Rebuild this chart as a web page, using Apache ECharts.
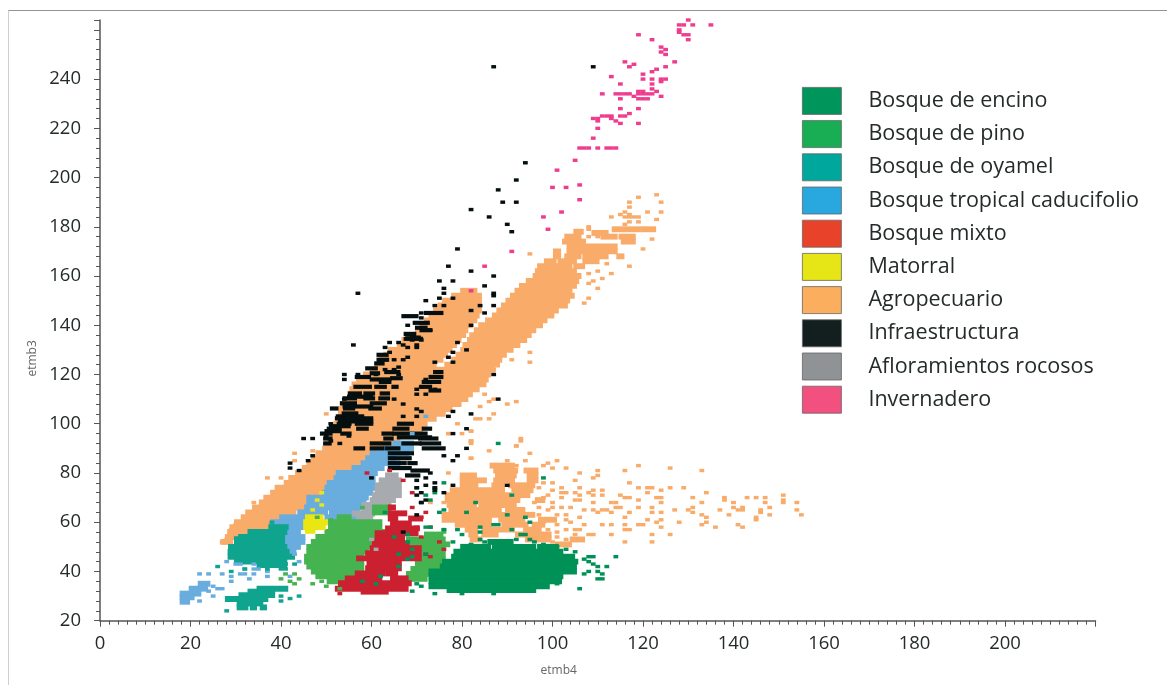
<!DOCTYPE html>
<html><head><meta charset="utf-8">
<script src="https://cdn.jsdelivr.net/npm/echarts@6/dist/echarts.min.js"></script>
<style>html,body{margin:0;padding:0;background:#fff}
#c{position:absolute;left:0;top:0;width:1167px;height:685px}
#f{position:absolute;left:8px;top:10px;right:0;bottom:0;border-top:1.5px solid #949494;border-left:1.5px solid #cfcfcf;pointer-events:none}</style>
</head><body><div id="c"></div><div id="f"></div>
<script>
const xTitle='etmb4', yTitle='etmb3';
const classNames=['Bosque de encino','Bosque de pino','Bosque de oyamel','Bosque tropical caducifolio','Bosque mixto','Matorral','Agropecuario','Infraestructura','Afloramientos rocosos','Invernadero'];
const legendColors=['#00955a','#1aae54','#00a79d','#29a8df','#e8432a','#e6e617','#fbae5d','#121f1e','#8f9396','#f2507f'];

// dense rows: [y, xFrom, xTo]
const agroRows=[[52,27,29],[54,28,31],[56,28.5,33],[58,29,37],[60,30,39],[62,31.5,41],[64,32.5,43],[66,34,45],[68,35.5,47],[70,36.5,48.5],[72,38,50],[74,39,51],[76,41,52.5],[78,42,54],[80,43.5,55],[82,45,56],[84,46,58],[86,47,60],[88,48,61],[90,49.5,63],[92,50,65],[94,50.5,66],[96,51,69],[98,51.5,71],[100,52,72],[102,52.5,74],[104,53,76],[106,53,77.5],[108,53.5,79.5],[110,54,81],[112,55,82],[114,55.5,83.5],[116,56,85],[118,57,85.5],[120,58.5,86],[122,60,87],
[124,61,74],[124,76.5,88],[126,62,75.5],[126,78,88.5],[128,63,76.5],[128,79,89.5],[130,64,77.5],[130,80,91],[132,66,78.5],[132,80.5,92.5],[134,67,79.5],[134,81.5,94],[136,68,80.5],[136,82,95],[138,70,81],[138,83,96],[140,71,82],[140,84,97.5],[142,72,83],[142,85.5,98.5],[144,73,83.5],[144,87,100],[146,74,84],[146,88,101],[148,75,84],[148,89,103],[150,76,84],[150,90,103.5],[152,78,84],[152,91,104.5],[154,80,83],[154,92,104],[156,93,105],[158,94.5,105.5],[160,96,106],[162,96.5,105],[164,97,104],[164,105,106.8],[166,98.5,100.5],[166,101.5,105],[166,107,110],[168,100.5,101.5],[168,103,106],[168,107,110],[168,110.5,112],[168,114.5,115.5],[170,100.5,101.5],[170,103.5,114],[172,103.5,114],[174,102.5,107],[174,115.5,118],[176,103,106],[176,111,114],[176,115,118],[177.5,109,112],[178,105,106.5],[179,113.5,119.3],[179,120,122.5],
[83,86.5,91.3],[81,87.3,92],[81,94,96.5],[79,79.9,82.9],[79,87.7,91.7],[79,94.7,96.5],[77,79.9,85.1],[77,87.3,91.3],[77,94.7,96.5],[75,79.9,83.2],[75,86.9,89.1],[75,90.6,95.8],[73,77.7,89.1],[73,91.3,95.4],[71,76.6,90.6],[71,91.7,94.7],[69,76.6,84],[69,84.7,92.5],[69,96.5,98],[67,77,82.9],[67,84,91.7],[65,77.4,88.4],[65,89.9,93.6],[63,75.9,89.9],[63,90.6,95.8],[61,75.9,86.2],[61,88.4,93.6],[61,97.2,100.6],[59,78.8,86.2],[59,89.1,94.3],[59,95.8,98],[57,81,83.2],[57,84.7,91.3],[57,93.9,97.2],[55,81.8,83.2],[55,84.7,87.7],[55,92.1,99.4],[53,82.1,84],[53,94.3,99.4],[53,104.2,106.8],[51,100.9,103.9]];
const agroPoints=[[123,193],[119,192],[124,190],[117,190],[117,188],[116,186],[121,186],[124,186],[115,185],[113,184],[116,184],[117,184],[118,184],[119,184],[117,185],[123,183],[117,182],[119,182],[116,181],[108,180],[108,179],[108,176],[110,176],[122,175],[120,171],[95,169],[117,164],[113,161],[111,159],[110,162],[112,165],[110,155],[108,151],[107,149],[108,161],[109,158],[108,157],[91,126],[95,125],[95,129],[87,122],[85,112],[87,110],[90,108],[92,109],[86,109],[84,107],[87,104],[84,102],[86,102],[83,102],[79,100],[82,97],[77,96],[80,96],[82,93],[93,93],[92,91],[86,89],[95,88],[82,86],[43,88],[47,89],[50,104],[37,78],[40,78],[43,85],[34,68],[30,59],[29,57],[27,52],[28,53],[30,55],
[93,94],[92,91],[90,85],[94,85],[92,83],[98,83],[99,84],[101,85],[100,82],[103,82],[106,80],[110,81],[110,79],[109,78],[116,81],[119,83],[126,82],[133,81],[105,77],[117,76],[119,74],[122,74],[121,74],[126,74],[129,74],[124,73],[121,72],[134,72],[100,73],[102,74],[102,72],[106,74],[103,72],[105,72],[109,73],[111,73],[108,72],[109,71],[111,71],[115,71],[116,70],[117,70],[119,69],[123,70],[124,70],[124,68],[131,70],[138,70],[138,69],[143,70],[145,70],[147,70],[151,71],[151,69],[151,68],[133,68],[147,68],[154,68],[102,70],[106,71],[106,69],[105,69],[109,68],[113,68],[114,68],[100,68],[100,66],[104,66],[107,65],[109,65],[110,64],[111,65],[112,65],[113,64],[114,66],[115,66],[116,62],[119,66],[117,64],[122,66],[122,64],[124,64],[127,65],[130,65],[131,66],[131,64],[133,63],[134,62],[137,65],[139,63],[140,68],[140,66],[141,65],[142,65],[142,66],[146,65],[146,64],[145,62],[145,61],[148,66],[148,63],[154,65],[155,63],[103,63],[103,61],[106,62],[104,60],[107,59],[106,57],[111,59],[113,59],[116,59],[119,59],[120,59],[121,61],[123,60],[124,61],[124,58],[128,60],[133,59],[134,60],[136,58],[141,59],[142,58],[116,57],[117,57],[113,55],[116,52],[122,55],[122,52],[126,55],[109,55],[108,55],[105,57],[105,55],[103,57],[103,53],[101,59],[77,80],[82,93],[82,92],[82,97],[82,86],[77,96],[73,68],[76,68],[98,70],[99,65],[97,74],[98,76],[97,63],[101,63],[102,66],[99,71],[100,76],[99,57],[101,56],[98,60],[97,66],[96,68],[101,54],[100,52]];

const tropRows=[[92,65,69],[90,63,69],[88,60,68],[86,59,65],[84,58,66],[82,56,62.5],[80,52.5,61],[78,52,60.5],[76,50.5,60.5],[74,50,60.5],[72,49.5,60],[70,46,59],[68,46,58.5],[66,45.5,58],[64,44,50],[64,51,57],[62,40,46],[62,50,57],[60,38,46],[60,50,52],[58,41,46],[56,41,44],[54,41,45],[52,40.5,45],[50,41,44],[48,41,43],[35,22,24],[33,20,23.5],[31,18,22],[29.5,18,20.5],[27.7,18,19.5]];
const tropPoints=[[28,44],[30,43],[31,43],[34,43],[32,41],[34,41],[35,41],[27,39],[29,38],[31,39],[32,39],[34,39],[37,40],[37,38],[33,37],[29,36],[24,39],[22,39],[25,34],[27,33],[26,33],[24,32],[25,30],[22,28],[42,38],[43,47],[44,44],[72,103],[69,96]];

const oyamelRows=[[58,37.6,41.3],[56,33,41],[54,30,40.5],[52,30,40.5],[50,28.7,41],[48,28.6,41.5],[46,28.6,42.7],[44,30,41],[42.6,35,41],[33,35,41.2],[31.8,33,38.3],[30.4,31,38.3],[28.8,28,36.8],[27,30.6,35.7],[25.4,30.6,32.4],[25.4,33.5,34.3],[25.4,35.7,36.5]];
const oyamelPoints=[[38,60],[26,42],[29,40],[32,41],[37,41],[41,41],[39,43],[40,41],[41,43],[43,43],[28,24],[40,30],[42,29],[44,30],[40,28]];

const matorralRows=[[62,45.7,49],[60,45.3,50],[58,45.3,49.5],[56.5,45.7,47.2]];
const matorralPoints=[[49,72],[48,69],[49,67],[47,65]];

const afloRows=[[79,63.4,65.6],[77,62,66.3],[75,61.1,66.3],[73,61.1,66.3],[71,60.5,66.3],[69,60,65],[67,58.2,64],[65,58.2,60.4],[63.5,56,60.4],[62,57,60]];
const afloPoints=[[60,53],[61,49]];

const pinoRows=[[66,60.5,64],[64,60.5,64],[62,52.7,55.2],[60,50.8,62],[58,50.8,62],[56,50,64],[54,48,64],[52,47,62],[50,46,60],[48,46,59],[46,45.5,58],[44,45.5,58],[42,46,58],[40,47,58],[38,48,56],[36,50.5,56],
[55,72,75.5],[53,68,76],[51,68,77],[49,68,76],[47,68,76],[45,70,76],[43,70,76],[41,69,75],[39,68,74],[37,68,72]];
const pinoPoints=[[40,37],[42,36],[43,35],[44,37],[47,35],[50,34],[49,36],[48,62],[51,61],[43,39],[41,39],[53,33],[58,66],[76,56],[76,57]];

const encinoRows=[[52,86,91],[50,80,86],[50,87,96],[50,97,101],[48,78.5,102],[46,78,104.6],[44,76,105.3],[42,75.5,105],[40,73,105],[38,73,102],[36,73,101.7],[34,73,99],[32.5,77,96]];
const encinoPoints=[[114,46],[109,46],[108,46],[107,45],[108,44],[109,43],[112,42],[110,42],[110,40],[111,39],[108,40],[110,37],[111,37],[107,39],[106,33],[101,35],[74,31],[80,31],[87,31],[69,32],[71,34],[70,35],
[88,92],[98,78],[91,71],[83,68],[81,64],[90,63],[76,65],[75,64],[76,76],[74,74],[74,72],[94,62],[95,60],[87,59],[88,59],[84,58],[84,56],[91,57],[94,55],[79,57],[76,57],[72,58],[73,58],[92,53],[65,54],[68,52],[69,49],[66,47],[68,45],[66,42],[62,38],[58,36],[61,35],[70,74],[63,64],[68,55],[69,46],[72,47],[73,69],[72,71],[80,55],[78,52],[85,52],[95,53],[98,51],[82,51],[84,53],[93,55],[103,49],[105,48],[101,50],[96,52]];

const mixtoRows=[[66,64,65],[63.6,64,67.5],[61.5,64,65.5],[61.5,68.5,71],[59.5,64.5,68.5],[57.5,63.4,70.3],[55.5,61.1,70],[53.4,61.1,67],[51.4,60.5,62],[51.4,62.7,68],[49.4,60,70.7],[47.4,59,70.7],[45.3,57,70.7],[43.3,59.3,66.3],[41.3,59,66.3],[39.2,56.7,62.6],[39.2,63.4,65.5],[37.2,54.5,62],[37.2,64.5,67.8],[35.2,53,68.5],[33,52.3,67.8],[31.8,58,63.4]];
const mixtoPoints=[[69,66],[70,58],[71,54],[72,47],[73,46],[75,52],[76,49],[67,77],[69,72],[64,81],[73,58],[53,31],[59,80],[72,64],[71,62]];

const infraRows=[[145,72,75.5],[143.7,67,70],[141,69.5,72.5],[139,70,72],[138,71,73],[136.5,67.5,69.5],[134.5,67.5,71],[135,69,70.5],[128,61.5,63.4],[126,61.5,63.5],[124.5,61,62.5],[122.5,59,61],[121,63.2,66],[121,74,75.5],[120.5,60,61.5],[119,56.7,59.5],[119,73,75.5],[118.5,64.5,66.5],[118,60,64],[117,62,64],[117,71.5,75],[115,56.4,59.7],[115,61,63],[115,64.8,65.6],[115,71,73],[113.5,73,75],[112.3,55.2,57.5],[112.3,58.6,60.4],[112.3,62.2,63.7],[111,55,60],[110.3,54,56.4],[110.3,58.6,60.4],[110.3,61.9,63.7],[108.3,53.4,56.4],[108.3,60,63],[107,54,60],[106.2,51.2,52.3],[106.2,54.1,56],[106.2,59.7,61.9],[104.2,53.8,56.7],[103,52.5,58],[102.2,52.3,56],[102.2,56.7,60],[101,53,60],[100,52.7,55.2],[100,56.7,60],[100,66,69],[99,51,55],[98,50.5,53],[98,57,59],[98,65,68],[98,71.5,73],[97,50,53],[96,49,51],[96,53.5,55.2],[96,62.6,64.5],[96,65,72],[94.5,66,73],[94,49.7,51],[94,63,64.5],[94,70.7,74.4],[92,49.7,50.8],[92,60,64],[92,67,70.7],[92,71,75],[90,56.4,58.2],[90,60,62.5],[90,63.4,66],[90,71.5,76],[88,64,69],[86,64,68.5],[84,64,67.4],[84,68.3,69.8],[82,64,68.5],[81,69,72.5],[79,67.8,70.4]];
const infraPoints=[[87,245],[109,245],[94,206],[92,199],[88,195],[89,190],[92,190],[82,187],[86,184],[90,181],[91,178],[79,171],[77,164],[82,162],[87,160],[75,158],[78,158],[85,156],[76,155],[76,153],[87,153],[87,152],[57,153],[75,151],[78,151],[72,150],[74,148],[76,148],[82,146],[84,148],[87,148],[85,145],[71,145],[71,143],[71,141],[72,141],[68,140],[82,140],[71,139],[73,138],[68,136],[69,135],[70,135],[69,134],[71,134],[56,132],[64,133],[66,133],[67,132],[79,133],[68,131],[70,131],[70,132],[63,131],[81,130],[78,129],[62,125],[64,129],[63,126],[65,126],[68,127],[67,126],[77,127],[78,125],[74,125],[63,122],[65,122],[61,120],[66,123],[66,120],[75,121],[74,119],[54,120],[54,118],[57,120],[59,119],[71,115],[74,114],[70,112],[72,112],[54,110],[70,106],[67,103],[71,105],[70,103],[77,103],[78,105],[82,104],[88,110],[87,120],[50,95],[45,94],[47,94],[46,85],[42,84],[42,82],[44,81],[47,87],[72,118],[73,117],[70,114],
[81,98],[78,96],[81,90],[76,87],[79,87],[78,85],[73,80],[72,78],[70,77],[78,75],[90,75],[74,74],[76,72],[72,69],[71,68],[70,63],[67,56],[70,74],[71,72],[70,71],[71,68],[60,78],[74,73],[74,76],[72,75],[65,110],[67,108],[51,93],[51,100],[53,92],[55,95]];

const inverPoints=[[130,264],[128,262],[128,260],[129,262],[131,262],[135,262],[128,259],[129,258],[130,258],[130,256],[119,258],[122,256],[124,253],[125,252],[124,251],[125,250],[127,247],[125,245],[116,247],[118,246],[117,245],[123,244],[122,243],[120,242],[113,241],[120,240],[122,240],[124,240],[125,240],[124,239],[122,238],[115,238],[122,236],[123,235],[111,234],[114,234],[115,234],[116,234],[117,234],[119,235],[120,235],[118,233],[119,234],[120,234],[121,234],[122,234],[124,233],[115,232],[119,232],[120,232],[121,232],[115,228],[119,228],[117,226],[111,225],[112,225],[113,225],[113,224],[115,225],[116,225],[114,223],[115,222],[119,222],[109,224],[110,224],[110,223],[110,220],[109,216],[106,212],[107,212],[108,212],[110,212],[112,212],[113,212],[114,212],[105,207],[101,203],[106,197],[100,196],[103,196],[106,191],[102,186],[98,184],[99,179],[91,170],[85,164],[82,154]];

const plotColors={agro:'#f9ab6a',trop:'#69addf',oyamel:'#0fa48e',matorral:'#eae614',aflo:'#a7abb0',pino:'#45b350',encino:'#009157',mixto:'#cb2030',infra:'#050f10',inver:'#ee3d8f'};

function rowSeries(name,rows,color,h){
  return {type:'custom',name,data:rows,encode:{x:[1,2],y:0},silent:true,itemStyle:{color},
    renderItem(p,api){
      const y=api.value(0),a=api.coord([api.value(1)-0.4,y+h/2]),b=api.coord([api.value(2)+0.4,y-h/2]);
      return {type:'rect',shape:{x:a[0],y:a[1],width:b[0]-a[0],height:b[1]-a[1]},style:{fill:color}};
    }};
}
function ptSeries(name,pts,color){
  return {type:'scatter',name,data:pts,symbol:'rect',symbolSize:[4.8,3.4],silent:true,itemStyle:{color,opacity:1}};
}
const N=classNames;
const series=[
 rowSeries(N[6],agroRows,plotColors.agro,2.4),ptSeries(N[6],agroPoints,plotColors.agro),
 rowSeries(N[3],tropRows,plotColors.trop,2.4),ptSeries(N[3],tropPoints,plotColors.trop),
 rowSeries(N[2],oyamelRows,plotColors.oyamel,2.4),ptSeries(N[2],oyamelPoints,plotColors.oyamel),
 rowSeries(N[8],afloRows,plotColors.aflo,2.4),ptSeries(N[8],afloPoints,plotColors.aflo),
 rowSeries(N[1],pinoRows,plotColors.pino,2.4),
 rowSeries(N[5],matorralRows,plotColors.matorral,2.4),ptSeries(N[5],matorralPoints,plotColors.matorral),
 rowSeries(N[0],encinoRows,plotColors.encino,2.4),
 rowSeries(N[4],mixtoRows,plotColors.mixto,2.4),ptSeries(N[4],mixtoPoints,plotColors.mixto),
 ptSeries(N[1],pinoPoints,plotColors.pino),ptSeries(N[0],encinoPoints,plotColors.encino),
 rowSeries(N[7],infraRows,plotColors.infra,1.7),ptSeries(N[7],infraPoints,plotColors.infra),
 ptSeries(N[9],inverPoints,plotColors.inver)
];
const lab={color:'#252b2b',fontFamily:'"Open Sans"',fontSize:18.5};
const chart=echarts.init(document.getElementById('c'),null,{renderer:'canvas'});
chart.setOption({
 animation:false,backgroundColor:'#fff',
 grid:{left:100,right:71.5,top:20,bottom:64.3},
 legend:{orient:'vertical',left:802,top:87,padding:0,itemWidth:39,itemHeight:27,itemGap:5.4,icon:'rect',selectedMode:false,
   textStyle:{color:'#252b2b',fontFamily:'"Open Sans"',fontSize:21.5,padding:[0,0,0,22]},
   data:N.map((name,i)=>({name,itemStyle:{color:legendColors[i],borderColor:'#666',borderWidth:0.8}}))},
 xAxis:{type:'value',min:0,max:220,interval:20,name:xTitle,nameLocation:'middle',nameGap:44,
   nameTextStyle:{color:'#666',fontSize:12,fontFamily:'"Open Sans"',padding:[0,78,0,0]},
   axisLine:{onZero:false,lineStyle:{color:'#555',width:1.5}},axisTick:{length:6,lineStyle:{color:'#555',width:1}},
   minorTick:{show:true,splitNumber:10,length:4,lineStyle:{color:'#555',width:1}},splitLine:{show:false},
   axisLabel:{...lab,margin:14,showMaxLabel:false}},
 yAxis:{type:'value',min:20,max:264,interval:20,name:yTitle,nameLocation:'middle',nameGap:60,
   nameTextStyle:{color:'#666',fontSize:12,fontFamily:'"Open Sans"',padding:[0,76,0,0]},
   axisLine:{onZero:false,lineStyle:{color:'#555',width:1.5}},axisTick:{length:6,lineStyle:{color:'#555',width:1}},
   minorTick:{show:true,splitNumber:5,length:4,lineStyle:{color:'#555',width:1}},splitLine:{show:false},
   axisLabel:{...lab,margin:19,showMaxLabel:false,formatter:v=>v>=260?'':String(v)}},
 series
});
</script></body></html>
